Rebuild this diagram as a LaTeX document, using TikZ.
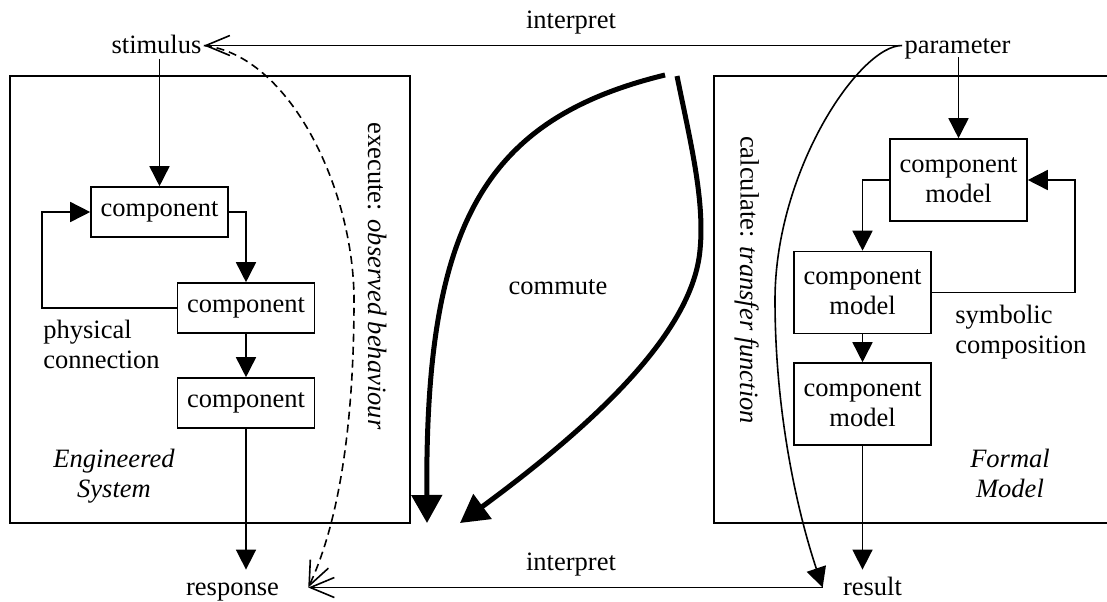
\documentclass[tikz,border=0pt]{standalone}
\usepackage{fontspec}
\setmainfont{Liberation Serif}
\usetikzlibrary{arrows.meta}
\tikzset{
  every node/.style={font=\fontsize{13.25pt}{15pt}\selectfont},
  lbl/.style={inner xsep=1pt, inner ysep=0pt, text height=9.5pt, text depth=2pt},
  txt/.style={inner sep=0pt},
  cbox/.style={draw, line width=0.8pt, minimum width=68.5pt, minimum height=25pt, inner sep=0pt, align=center},
  mbox/.style={cbox, minimum height=41pt},
  arr/.style={line width=0.8pt, -{Triangle[length=10pt,width=10pt]}},
  openarr/.style={line width=0.8pt, -{Straight Barb[length=12pt,width=10pt,line width=0.8pt]}},
  thickarr/.style={line width=2.5pt, -{Triangle[length=14pt,width=15pt]}},
  frame/.style={line width=0.8pt}
}
\begin{document}
\begin{tikzpicture}[x=0.5pt,y=-0.5pt]
\useasboundingbox (0,0) rectangle (1107,601);

% frames
\draw[frame] (10,76) rectangle (410,523);
\draw[frame] (1107,76) -- (714,76) -- (714,523) -- (1107,523);

% labels
\node[lbl, anchor=base] (stim) at (156.5,53) {stimulus};
\node[lbl, anchor=base] (param) at (957.5,53) {parameter};
\node[lbl, anchor=base, inner xsep=14.5pt] (resp) at (232.5,595) {response};
\node[lbl, anchor=base, inner xsep=10pt] (res) at (872.5,595) {result};
\node[txt, anchor=base] (itop) at (571,28) {interpret};
\node[txt, anchor=base] (ibot) at (571,570) {interpret};
\node[txt, anchor=base] (comm) at (558,294) {commute};

% left components
\node[cbox] (C1) at (159.5,212) {component};
\node[cbox] (C2) at (246,308) {component};
\node[cbox] (C3) at (246,403) {component};

% right component models
\node[mbox] (M1) at (958.5,180) {component\\model};
\node[mbox] (M2) at (862.5,292.5) {component\\model};
\node[mbox] (M3) at (862.5,404) {component\\model};

% text labels
\node[txt, anchor=west, align=left] (phys) at (43,344) {physical\\connection};
\node[txt, anchor=west, align=left] (symb) at (955,332) {symbolic\\composition};
\node[txt, align=center, font=\fontsize{13.25pt}{15pt}\selectfont\itshape] (eng) at (114,476) {Engineered\\System};
\node[txt, align=center, font=\fontsize{13.25pt}{15pt}\selectfont\itshape] (form) at (1010,473) {Formal\\Model};
\node[txt, rotate=-90] (exec) at (377,276) {execute: \textit{observed behaviour}};
\node[txt, rotate=-90] (calc) at (747,280) {calculate: \textit{transfer function}};

% left connectors
\draw[arr] ([yshift=-1pt]stim.south -| C1.north) -- (C1.north);
\draw[arr] (C1.east) -| (C2.north);
\draw[arr] (C2.south) -- (C3.north);
\draw[arr] (C3.south) -- ([yshift=3pt]C3.south |- resp.north);
\draw[arr] (C2.west) -- ++(-135,0) |- (C1.west);

% right connectors
\draw[arr] (param.south -| M1.north) -- (M1.north);
\draw[arr] (M1.west) -| (M2.north);
\draw[arr] (M2.south) -- (M3.north);
\draw[arr] (M3.south) -- ([yshift=3pt]M3.south |- res.north);
\draw[arr] (M2.east) -- ++(143,0) |- (M1.east);

% interpret lines
\draw[openarr] (param.west) -- (stim.east);
\draw[openarr] (res.west) -- (resp.east);

% execute (dashed) and calculate curves
\draw[openarr, dash pattern=on 4pt off 2.5pt] (stim.east) .. controls (290,55) and (354,190) .. (354,300)
  .. controls (354,420) and (340,520) .. (resp.east);
\draw[arr] (param.west) .. controls (860,45) and (775,170) .. (775,300)
  .. controls (775,420) and (800,520) .. (res.west);

% commute arrows
\coordinate (a1s) at (665,75);
\coordinate (a1e) at (427,523);
\coordinate (a2s) at (677,76);
\coordinate (a2e) at (460,523);
\draw[thickarr] (a1s) .. controls (480,120) and (425,230) .. (a1e);
\draw[thickarr] (a2s) .. controls (690,140) and (705,200) .. (700,250)
  .. controls (693,330) and (600,420) .. (a2e);
\end{tikzpicture}
\end{document}
